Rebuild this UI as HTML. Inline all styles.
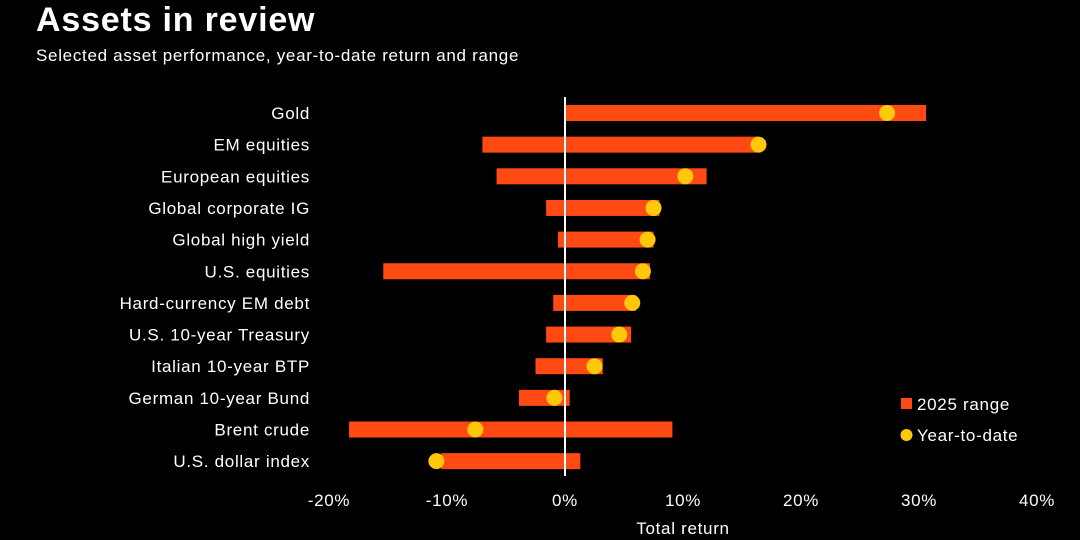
<!DOCTYPE html>
<html><head><meta charset="utf-8"><style>
html,body{margin:0;padding:0;background:#000;width:1080px;height:540px;overflow:hidden}
svg text{font-family:"Liberation Sans",sans-serif;fill:#fff;letter-spacing:0.7px}
</style></head><body>
<svg id="chart" width="1080" height="540">
<text x="36" y="31" font-size="34" font-weight="bold" style="letter-spacing:0.8px">Assets in review</text>
<text x="36" y="61" font-size="17">Selected asset performance, year-to-date return and range</text>
<g id="bars"></g>
<g id="axis"></g>
<text x="683" y="534" font-size="17" text-anchor="middle">Total return</text>
<rect x="901" y="398" width="11" height="11" fill="#ff4a14"/>
<text x="917" y="410" font-size="17">2025 range</text>
<circle cx="906.5" cy="435" r="6" fill="#ffc80a"/>
<text x="917" y="441" font-size="17">Year-to-date</text>
</svg>
<script>
const categories=["Gold","EM equities","European equities","Global corporate IG","Global high yield","U.S. equities","Hard-currency EM debt","U.S. 10-year Treasury","Italian 10-year BTP","German 10-year Bund","Brent crude","U.S. dollar index"];
const rangeLow=[0,-7.0,-5.8,-1.6,-0.6,-15.4,-1.0,-1.6,-2.5,-3.9,-18.3,-10.5];
const rangeHigh=[30.6,16.4,12.0,8.0,7.5,7.2,6.0,5.6,0.9,0.4,9.1,1.3];
const ytd=[27.3,16.4,10.2,7.5,7.0,6.6,5.7,4.6,2.5,-0.9,-7.6,-10.9];
const ticks=[-20,-10,0,10,20,30,40];
rangeHigh[8]=3.2;
const ns="http://www.w3.org/2000/svg";
const x=v=>565+v*11.8;
const y=i=>113+i*31.65;
const bars=document.getElementById('bars'),axis=document.getElementById('axis');
function mk(tag,attrs,parent){const e=document.createElementNS(ns,tag);for(const k in attrs)e.setAttribute(k,attrs[k]);parent.appendChild(e);return e;}
categories.forEach((c,i)=>{
  const l=mk('text',{x:310,y:y(i)+6,'font-size':17,'text-anchor':'end'},bars);l.textContent=c;
  
  
  const r=mk('rect',{x:x(Math.min(rangeLow[i],rangeHigh[i])),y:y(i)-8,width:Math.abs(x(rangeHigh[i])-x(rangeLow[i])),height:16,fill:'#ff4a14'},bars);
  
  
});
const zl=mk('line',{x1:x(0),x2:x(0),y1:97,y2:476,stroke:'#fff','stroke-width':2},bars);


categories.forEach((c,i)=>{
  const d=mk('circle',{cx:x(ytd[i]),cy:y(i),r:8,fill:'#ffc80a'},bars);
  
  
});
ticks.forEach(t=>{
  const tx=mk('text',{x:x(t),y:506,'font-size':17,'text-anchor':'middle'},axis);tx.textContent=t+'%';
  
  
});
</script>
</body></html>
